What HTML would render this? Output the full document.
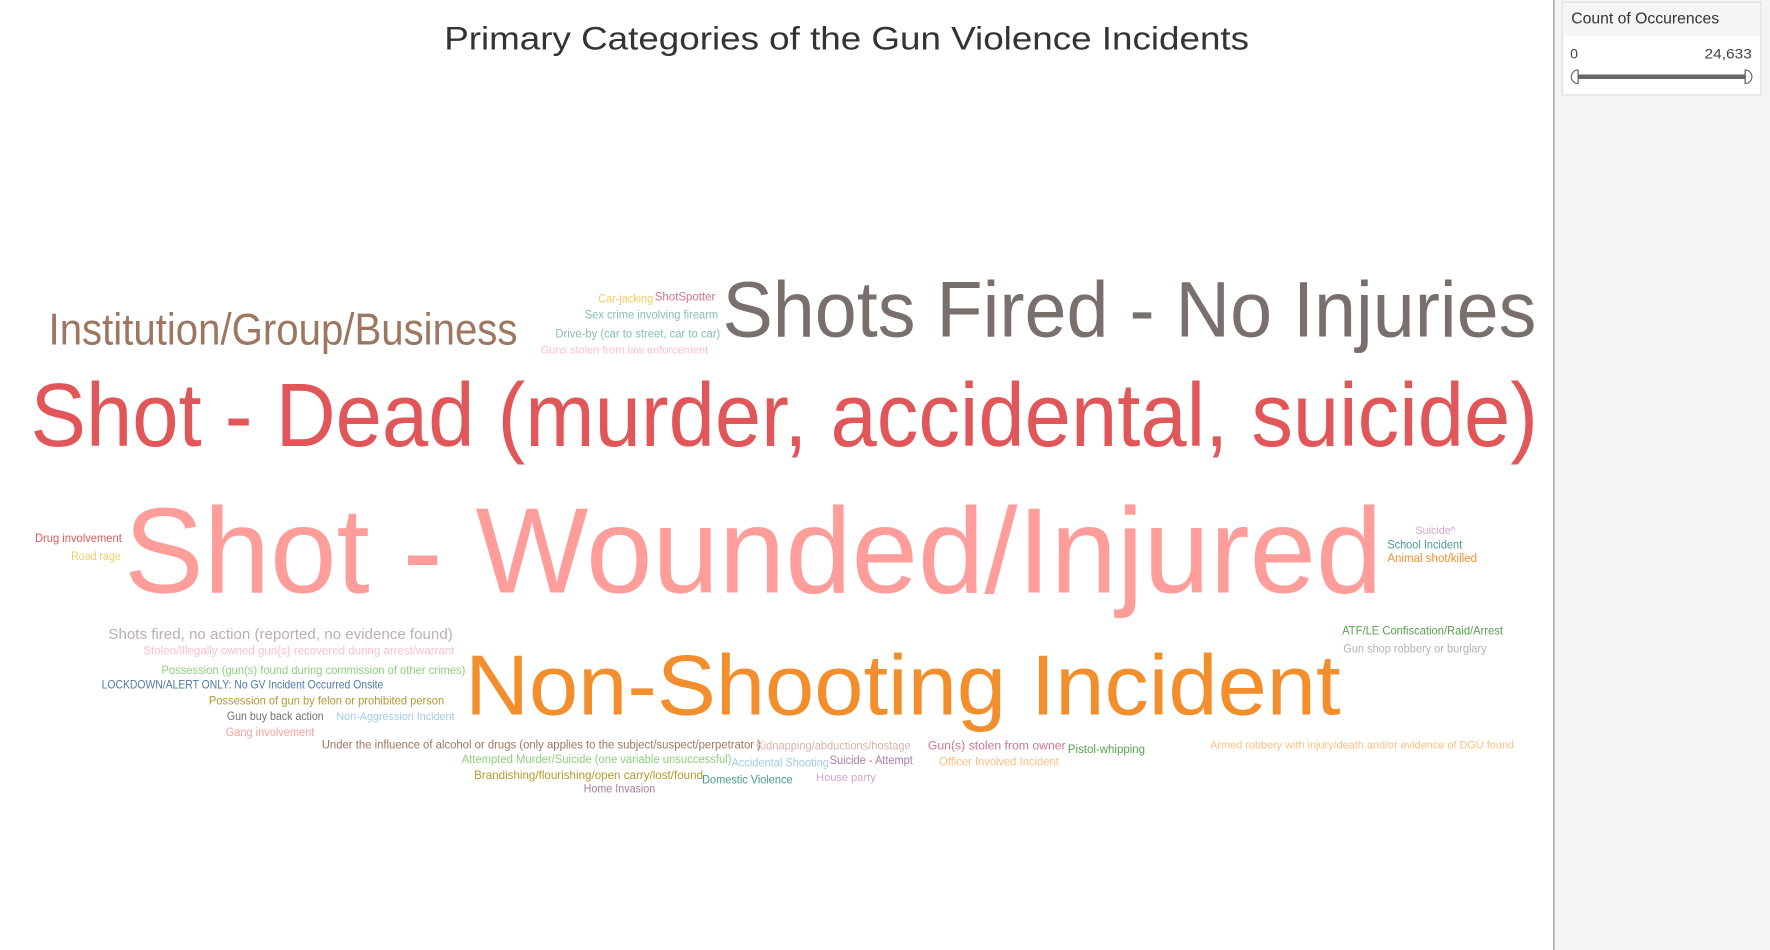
<!DOCTYPE html>
<html><head><meta charset="utf-8"><style>
html,body{margin:0;padding:0;background:#fff;width:1770px;height:950px;overflow:hidden}
svg{display:block}
text{font-family:"Liberation Sans","DejaVu Sans",sans-serif}
</style></head><body>
<svg id="chart" width="1770" height="950" viewBox="0 0 1568 841.6" xmlns="http://www.w3.org/2000/svg">
<rect x="0" y="0" width="1568" height="842" fill="#fff"/>
<rect x="1377" y="0" width="191" height="842" fill="#f4f4f4"/>
<line x1="1376.5" y1="0" x2="1376.5" y2="842" stroke="#9a9a9a" stroke-width="1.2"/>
<text x="750" y="44" text-anchor="middle" font-size="29" fill="#333" textLength="713" lengthAdjust="spacingAndGlyphs">Primary Categories of the Gun Violence Incidents</text>
<g>
<rect x="1384" y="2" width="176" height="82" fill="#fff" stroke="#dcdcdc"/>
<rect x="1385" y="3" width="174" height="29" fill="#f5f5f5"/>
<text x="1392" y="21" font-size="13.5" fill="#333" textLength="131" lengthAdjust="spacingAndGlyphs">Count of Occurences</text>
<text x="1391" y="52" font-size="12.5" fill="#444">0</text>
<text x="1552" y="52" font-size="12.5" fill="#444" text-anchor="end" textLength="42" lengthAdjust="spacingAndGlyphs">24,633</text>
<rect x="1396" y="66" width="152" height="4" fill="#666"/>
<path d="M1398,62 A6,6 0 0 0 1398,74 Z" fill="#fff" stroke="#666"/>
<path d="M1546,62 A6,6 0 0 1 1546,74 Z" fill="#fff" stroke="#666"/>
<line x1="1398" y1="62" x2="1398" y2="74" stroke="#666"/>
<line x1="1546" y1="62" x2="1546" y2="74" stroke="#666"/>
</g>
<g id="words"></g>
</svg>
<script>
// data
const categories = ["Shot - Wounded/Injured","Shot - Dead (murder, accidental, suicide)","Non-Shooting Incident","Shots Fired - No Injuries","Institution/Group/Business","Shots fired, no action (reported, no evidence found)","Gun(s) stolen from owner","Car-jacking","ShotSpotter","Sex crime involving firearm","Drive-by (car to street, car to car)","Guns stolen from law enforcement","Drug involvement","Road rage","Suicide^","School Incident","Animal shot/killed","ATF/LE Confiscation/Raid/Arrest","Gun shop robbery or burglary","Stolen/Illegally owned gun{s} recovered during arrest/warrant","Possession (gun(s) found during commission of other crimes)","LOCKDOWN/ALERT ONLY: No GV Incident Occurred Onsite","Possession of gun by felon or prohibited person","Gun buy back action","Non-Aggression Incident","Gang involvement","Under the influence of alcohol or drugs (only applies to the subject/suspect/perpetrator )","Kidnapping/abductions/hostage","Pistol-whipping","Armed robbery with injury/death and/or evidence of DGU found","Attempted Murder/Suicide (one variable unsuccessful)","Accidental Shooting","Suicide - Attempt","Officer Involved Incident","Brandishing/flourishing/open carry/lost/found","Domestic Violence","House party","Home Invasion"];
const counts = [24633,17600,16600,15100,7300,750,250,60,80,70,90,40,100,60,40,70,80,120,60,110,140,100,120,50,40,80,130,50,90,30,110,70,60,70,100,100,40,60];
const colors = ["#ff9d9a","#e15759","#f28e2b","#79706e","#9d7660","#bab0ac","#d37295","#f1ce63","#d37295","#86bcb6","#86bcb6","#fabfd2","#e15759","#f1ce63","#d4a6c8","#499894","#f28e2b","#59a14f","#bab0ac","#fabfd2","#8cd17d","#4e79a7","#b6992d","#79706e","#a0cbe8","#ff9d9a","#9d7660","#d7b5a6","#59a14f","#ffbe7d","#8cd17d","#a0cbe8","#b07aa1","#ffbe7d","#b6992d","#499894","#d4a6c8","#b07aa1"];
// layout (word-cloud placement): left x, baseline y, width in em units
const layoutX = [110,27,412,640,43,96,822,530,580,518,492,479,31,63,1254,1229,1229,1189,1190,127,143,90,185,201,298,200,285,670,946,1072,409,648,735,832,420,622,723,517];
const layoutY = [525,395,633,298,305,566,664,268,266,282,299,313,480,496,473,486,498,562,578,580,597,610,624,638,638,652,663,664,667,663,676,679,677,678,690,694,692,702];
const layoutEm = [10.32,16.69,10.2,10.29,10.64,23.5,11.1,4.75,5.2,11.5,14.1,14.6,7.4,4.3,3.5,6.45,7.7,13.6,12.4,26.4,25.5,24.0,19.9,8.4,10.3,7.6,37.0,13.4,6.6,26.6,22.9,8.4,7.2,10.3,19.5,7.7,5.2,6.2];
function sizeScale(c){ return 10 + (c/24633)*98; }
const g = document.getElementById('words');
const NS = "http://www.w3.org/2000/svg";
for (let i=0;i<categories.length;i++){
  const fs = sizeScale(counts[i]);
  const t = document.createElementNS(NS,'text');
  
  
  t.setAttribute('x', layoutX[i]);
  t.setAttribute('y', layoutY[i]);
  t.setAttribute('font-size', fs.toFixed(2));
  t.setAttribute('fill', colors[i]);
  t.setAttribute('textLength', (layoutEm[i]*fs).toFixed(1));
  t.setAttribute('lengthAdjust', 'spacingAndGlyphs');
  t.textContent = categories[i];
  g.appendChild(t);
}
</script>
</body></html>
